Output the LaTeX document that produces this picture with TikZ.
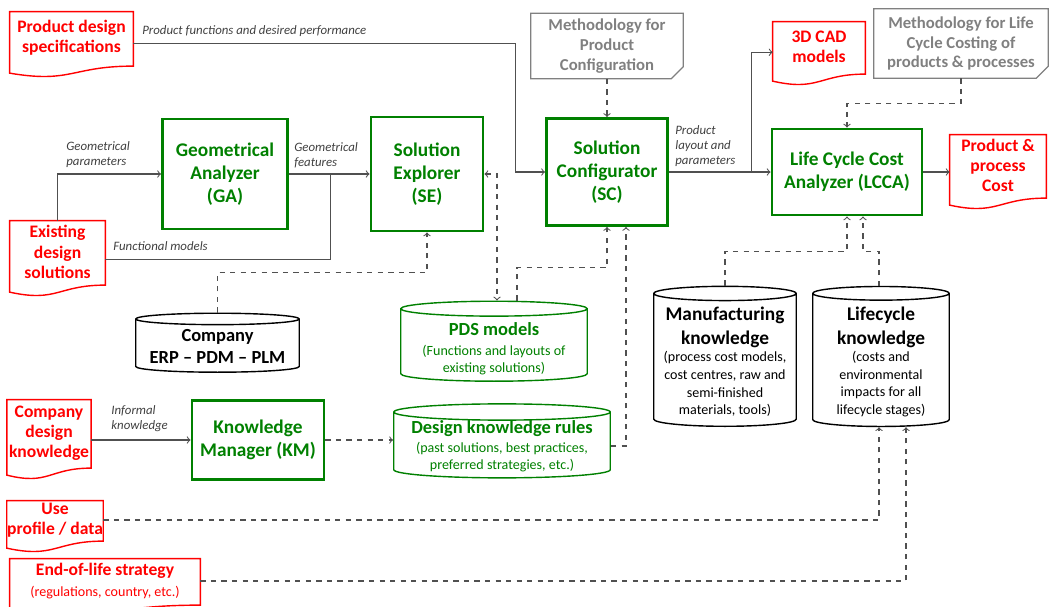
\documentclass[tikz,border=0pt]{standalone}
\usepackage{fontspec}
\setmainfont{Carlito}
\usetikzlibrary{positioning,shapes,arrows,calc}
\definecolor{boxgreen}{RGB}{0,128,0}
\definecolor{docred}{RGB}{255,0,0}
\definecolor{notegray}{RGB}{128,128,128}
\definecolor{linegray}{RGB}{80,80,80}

\tikzset{
  tool/.style={draw=boxgreen, line width=1.6pt, text=boxgreen, align=center,
    font=\bfseries\fontsize{11}{13}\selectfont, inner sep=2pt},
  doc/.style={text=docred, align=center, inner sep=1pt,
    font=\bfseries\fontsize{10}{11.5}\selectfont,
    append after command={\pgfextra{\draw[docred, line width=0.8pt]
      (\tikzlastnode.north west) -- (\tikzlastnode.north east)
      -- ([yshift=-1pt]\tikzlastnode.south east)
      .. controls ($(\tikzlastnode.south)+(0,-1pt)$) and ($(\tikzlastnode.south)+(0,-11pt)$)
      .. ([yshift=-5pt]\tikzlastnode.south west) -- cycle;}}},
  note/.style={text=notegray, align=center, inner sep=1pt,
    font=\bfseries\fontsize{9.5}{11.3}\selectfont,
    append after command={\pgfextra{\draw[notegray, line width=0.7pt]
      (\tikzlastnode.north west) -- (\tikzlastnode.north east)
      -- ([yshift=7pt]\tikzlastnode.south east)
      -- ([xshift=-7pt]\tikzlastnode.south east)
      -- (\tikzlastnode.south west) -- cycle
      ([yshift=7pt]\tikzlastnode.south east)
      -- ([xshift=-4pt,yshift=3pt]\tikzlastnode.south east)
      -- ([xshift=-7pt]\tikzlastnode.south east);}}},
  store/.style={cylinder, shape border rotate=90, draw, aspect=#1,
    inner sep=1pt, line width=0.8pt},
  greenstore/.style={store=#1, draw=boxgreen},
  storetext/.style={align=center, inner sep=0pt, font=\fontsize{8}{10}\selectfont},
  lbl/.style={font=\itshape\fontsize{7.3}{8.6}\selectfont, text=black!75, align=left, anchor=west, inner sep=0pt},
  conn/.style={draw=linegray, line width=0.6pt},
  dconn/.style={conn, dashed},
}

\begin{document}
\begin{tikzpicture}[x=0.02cm, y=-0.02cm, >=to]
\useasboundingbox (0,0) rectangle (1050,606);

% inputs (documents)
\node[doc, minimum width=2.46cm, minimum height=1.04cm] (spec) at (71.5,38) {Product design\\specifications};
\node[doc, minimum width=1.9cm, minimum height=1.24cm] (exist) at (57.5,252) {Existing\\design\\solutions};
\node[doc, minimum width=1.56cm, minimum height=1.32cm] (cdk) at (49,433) {Company\\design\\knowledge};
\node[doc, minimum width=1.8cm, minimum height=0.76cm, inner sep=0pt] (use) at (55,520) {Use\\profile / data};
\node[doc, minimum width=3.8cm, minimum height=0.88cm] (eol) at (105,581) {End-of-life strategy\\{\mdseries\fontsize{8}{10}\selectfont (regulations, country, etc.)}};
\node[doc, minimum width=1.84cm, minimum height=1.0cm] (cad) at (819,47) {3D CAD\\models};
\node[doc, minimum width=1.92cm, minimum height=1.22cm] (cost) at (998,165.5) {Product \&\\process\\Cost};

% tools
\node[tool, minimum width=2.5cm, minimum height=2.2cm] (ga) at (225,174) {Geometrical\\Analyzer\\(GA)};
\node[tool, minimum width=2.24cm, minimum height=2.28cm] (se) at (427,174) {Solution\\Explorer\\(SE)};
\node[tool, minimum width=2.42cm, minimum height=2.14cm] (sc) at (607,172) {Solution\\Configurator\\(SC)};
\node[tool, minimum width=3.0cm, minimum height=1.72cm] (lcca) at (847,172) {Life Cycle Cost\\Analyzer (LCCA)};
\node[tool, minimum width=2.64cm, minimum height=1.58cm] (km) at (258,440) {Knowledge\\Manager (KM)};

% methodologies
\node[note, minimum width=3.04cm, minimum height=1.3cm] (mpc) at (607,46) {Methodology for\\Product\\Configuration};
\node[note, minimum width=3.48cm, minimum height=1.38cm] (mlcc) at (961,43.5) {Methodology for Life\\Cycle Costing of\\products \& processes};

% knowledge bases
\node[store=0.07, text width=3.2cm, minimum height=1.18cm,
  label={[storetext, font=\bfseries\fontsize{10.5}{12.5}\selectfont, yshift=0pt]center:{Company\\ERP -- PDM -- PLM}}] (erp) at (217.5,346.5) {};
\node[greenstore=0.08, text width=3.66cm, minimum height=1.6cm,
  label={[storetext, text=boxgreen, yshift=-1.7pt]center:{{\bfseries\fontsize{10.5}{12.5}\selectfont PDS models}\\[1pt](Functions and layouts of\\existing solutions)}}] (pds) at (494,346) {};
\node[greenstore=0.075, text width=4.26cm, minimum height=1.48cm,
  label={[storetext, text=boxgreen, yshift=-0.3pt]center:{{\bfseries\fontsize{10.5}{12.5}\selectfont Design knowledge rules}\\[0.5pt](past solutions, best practices,\\preferred strategies, etc.)}}] (dkr) at (502,446) {};
\node[store=0.1, text width=2.78cm, minimum height=2.8cm,
  label={[storetext, yshift=-0.5pt]center:{{\bfseries\fontsize{11}{13}\selectfont Manufacturing}\\[3.5pt]{\bfseries\fontsize{11}{13}\selectfont knowledge}\\(process cost models,\\cost centres, raw and\\semi-finished\\materials, tools)}}] (mk) at (725,361) {};
\node[store=0.1, text width=2.66cm, minimum height=2.8cm,
  label={[storetext, yshift=-0.5pt]center:{{\bfseries\fontsize{11}{13}\selectfont Lifecycle}\\[3.5pt]{\bfseries\fontsize{11}{13}\selectfont knowledge}\\(costs and\\environmental\\impacts for all\\lifecycle stages)}}] (lk) at (881,361) {};

% solid flows
\draw[conn,->] ([yshift=-3pt]spec.east) -| ($(sc.west)+(-30,0)$) -- (sc.west);
\node[lbl] (lspec) at (142,31) {Product functions and desired performance};
\draw[conn,->] (exist.north) |- (ga.west);
\node[lbl] (lgpar) at (66,155) {Geometrical\\parameters};
\draw[conn,->] (ga.east) -- coordinate[pos=0.52] (jfeat) (se.west);
\node[lbl] (lgfeat) at (294,155) {Geometrical\\features};
\draw[conn] ([yshift=-4pt]exist.east) -| (jfeat);
\node[lbl] (lfunc) at (113,246) {Functional models};
\draw[conn,->] (cdk.east |- km.west) -- (km.west);
\node[lbl] (linf) at (111,419) {Informal\\knowledge};
\draw[conn,->] (sc.east) -- coordinate[pos=0.81] (jcad) (lcca.west);
\node[lbl] (llay) at (675,146) {Product\\layout and\\parameters};
\draw[conn,->] (jcad) |- ([yshift=-3pt]cad.west);
\draw[conn,->] (lcca.east) -- (lcca.east -| cost.west);

% dashed flows
\draw[dconn,->] (mpc.south) -- (sc.north);
\draw[dconn,->] (mlcc.south) |- ($(lcca.north)+(0,-24)$) -- (lcca.north);
\draw[dconn,->] (erp.north) |- ($(se.south)+(0,40)$) -- (se.south);
\draw[dconn,<->] (se.east) -| ($(pds.north)+(3,0)$);
\draw[dconn,->] ($(pds.north)+(23,0)$) |- ($(sc.south)+(0,41)$) -- (sc.south);
\draw[dconn,->] (dkr.east) -| ($(sc.south)+(19,0)$);
\draw[dconn,->] (km.east) -- (km.east -| dkr.west);
\draw[dconn,->] (mk.north) |- ($(lcca.south)+(0,35)$) -- (lcca.south);
\draw[dconn,->] ($(lk.north)+(-2,0)$) |- ($(lcca.south)+(16,35)$) -- ($(lcca.south)+(16,0)$);
\draw[dconn,->] (use.east) -| ($(lk.south)+(-2,0)$);
\draw[dconn,->] (eol.east) -| ($(lk.south)+(25,0)$);
\end{tikzpicture}
\end{document}
